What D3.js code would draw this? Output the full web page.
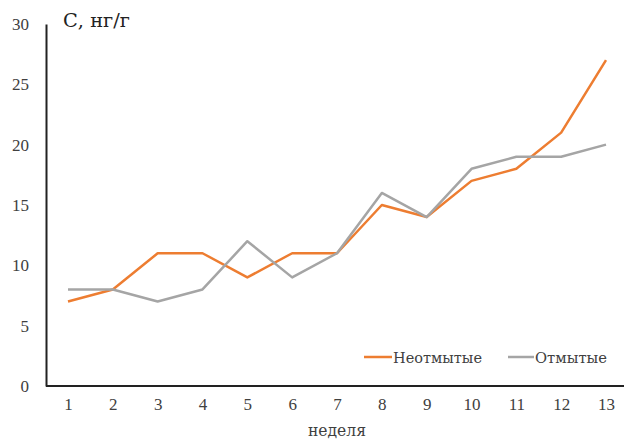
<!DOCTYPE html>
<html><head><meta charset="utf-8">
<script src="https://cdn.jsdelivr.net/npm/d3@7"></script>
<style>body{margin:0;background:#fff}svg{display:block}</style>
</head><body>
<svg id="c" width="624" height="439" font-family="Liberation Serif"></svg>
<script>
const weeks = [1,2,3,4,5,6,7,8,9,10,11,12,13];
const unwashed = [7,8,11,11,9,11,11,15,14,17,18,21,27];
const washed = [8,8,7,8,12,9,11,16,14,18,19,19,20];
const yTicks = [0,5,10,15,20,25,30];
const seriesNames = ["Неотмытые","Отмытые"];
const colors = ["#ED7D31","#A5A5A5"];
const FONT = "Liberation Serif";      // digits
const CYR = "DejaVu Serif";           // serif with Cyrillic glyphs

const svg = d3.select("#c");
const x = d3.scaleLinear().domain([1,13]).range([68,606]);
const y = d3.scaleLinear().domain([0,30]).range([386,24]);

// axes
const yAxis = svg.append("g").attr("transform","translate(46,0)")
  .call(d3.axisLeft(y).tickValues(yTicks).tickSize(0).tickPadding(17));
yAxis.attr("font-family",FONT).attr("font-size",17);
yAxis.select(".domain").attr("stroke","#222").attr("stroke-width",2);
yAxis.selectAll("text").attr("font-family",FONT).attr("font-size",17).attr("fill","#404040");

const xAxis = svg.append("g").attr("transform","translate(0,386)")
  .call(d3.axisBottom(x).tickValues(weeks).tickSize(0).tickPadding(12));
xAxis.attr("font-family",FONT).attr("font-size",17);
xAxis.select(".domain").attr("d","M46,0H624").attr("stroke","#222").attr("stroke-width",2);
xAxis.selectAll("text").attr("font-family",FONT).attr("font-size",17).attr("fill","#404040");

const line = d3.line().x((d,i)=>x(weeks[i])).y(d=>y(d));
[unwashed, washed].forEach((s,k)=>{
  svg.append("path").datum(s).attr("d",line).attr("fill","none")
    .attr("stroke",colors[k]).attr("stroke-width",2.5).attr("stroke-linejoin","round");
});

// title & axis label
svg.append("text").attr("x",63).attr("y",27).attr("font-family",CYR).attr("font-size",19)
  .attr("textLength",67).attr("lengthAdjust","spacingAndGlyphs").attr("fill","#222").text("С, нг/г");
svg.append("text").attr("x",308).attr("y",436).attr("font-family",CYR).attr("font-size",16)
  .attr("textLength",58).attr("lengthAdjust","spacingAndGlyphs").attr("fill","#404040").text("неделя");

// legend
const leg = [{x1:364,x2:392,tx:393,w:89},{x1:508,x2:534,tx:535,w:72}];
leg.forEach((l,k)=>{
  svg.append("line").attr("x1",l.x1).attr("x2",l.x2).attr("y1",357).attr("y2",357)
    .attr("stroke",colors[k]).attr("stroke-width",2.5);
  svg.append("text").attr("x",l.tx).attr("y",363).attr("font-family",CYR).attr("font-size",14)
    .attr("textLength",l.w).attr("lengthAdjust","spacingAndGlyphs").attr("fill","#404040").text(seriesNames[k]);
});
</script>
</body></html>
